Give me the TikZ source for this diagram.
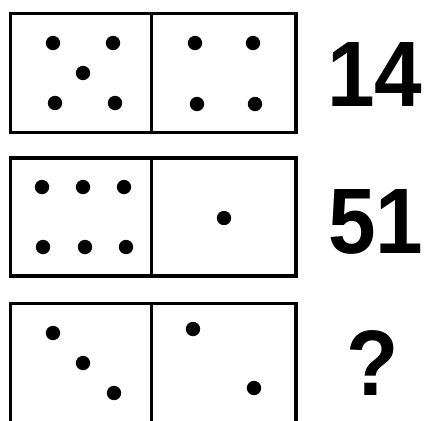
\documentclass[tikz,border=0pt]{standalone}
\usepackage{fontspec}
\setmainfont{Liberation Sans}
\begin{document}
\begin{tikzpicture}[x=1pt,y=-1pt,
  frame/.style={line width=3.5pt,line join=miter},
  pip/.style={fill=black,draw=none},
  num/.style={font=\fontsize{93}{93}\selectfont\bfseries,inner sep=0pt,anchor=base,xscale=0.92}]
\useasboundingbox[fill=white] (0,0) rectangle (424,421);
% domino 1
\draw[frame] (10.5,13.5) rectangle (296,132.5);
\draw[frame] (151.5,13.5) -- (151.5,132.5);
\foreach \p in {(53,43),(113,43),(83,73),(55,103),(115,103),
                (195,43),(253,43),(197,104),(255,104)}
  \fill[pip] \p circle (7.2);
% domino 2
\draw[frame] (10.5,158) rectangle (296,276);
\draw[frame] (151.5,158) -- (151.5,276);
\foreach \p in {(42,187),(83,187),(124,187),(43,247),(85,247),(126,247),(224,218)}
  \fill[pip] \p circle (7.2);
% domino 3
\draw[frame] (10.5,430) -- (10.5,303.3) -- (296,303.3) -- (296,430);
\draw[frame] (151.5,303.3) -- (151.5,430);
\foreach \p in {(53,333),(83,363),(114,393),(193,329),(254,388)}
  \fill[pip] \p circle (7.2);
% labels
\node[num] (n1) at (375,106) {14};
\node[num] (n2) at (376,253) {51};
\node[num] (n3) at (373,395) {?};
\end{tikzpicture}
\end{document}
